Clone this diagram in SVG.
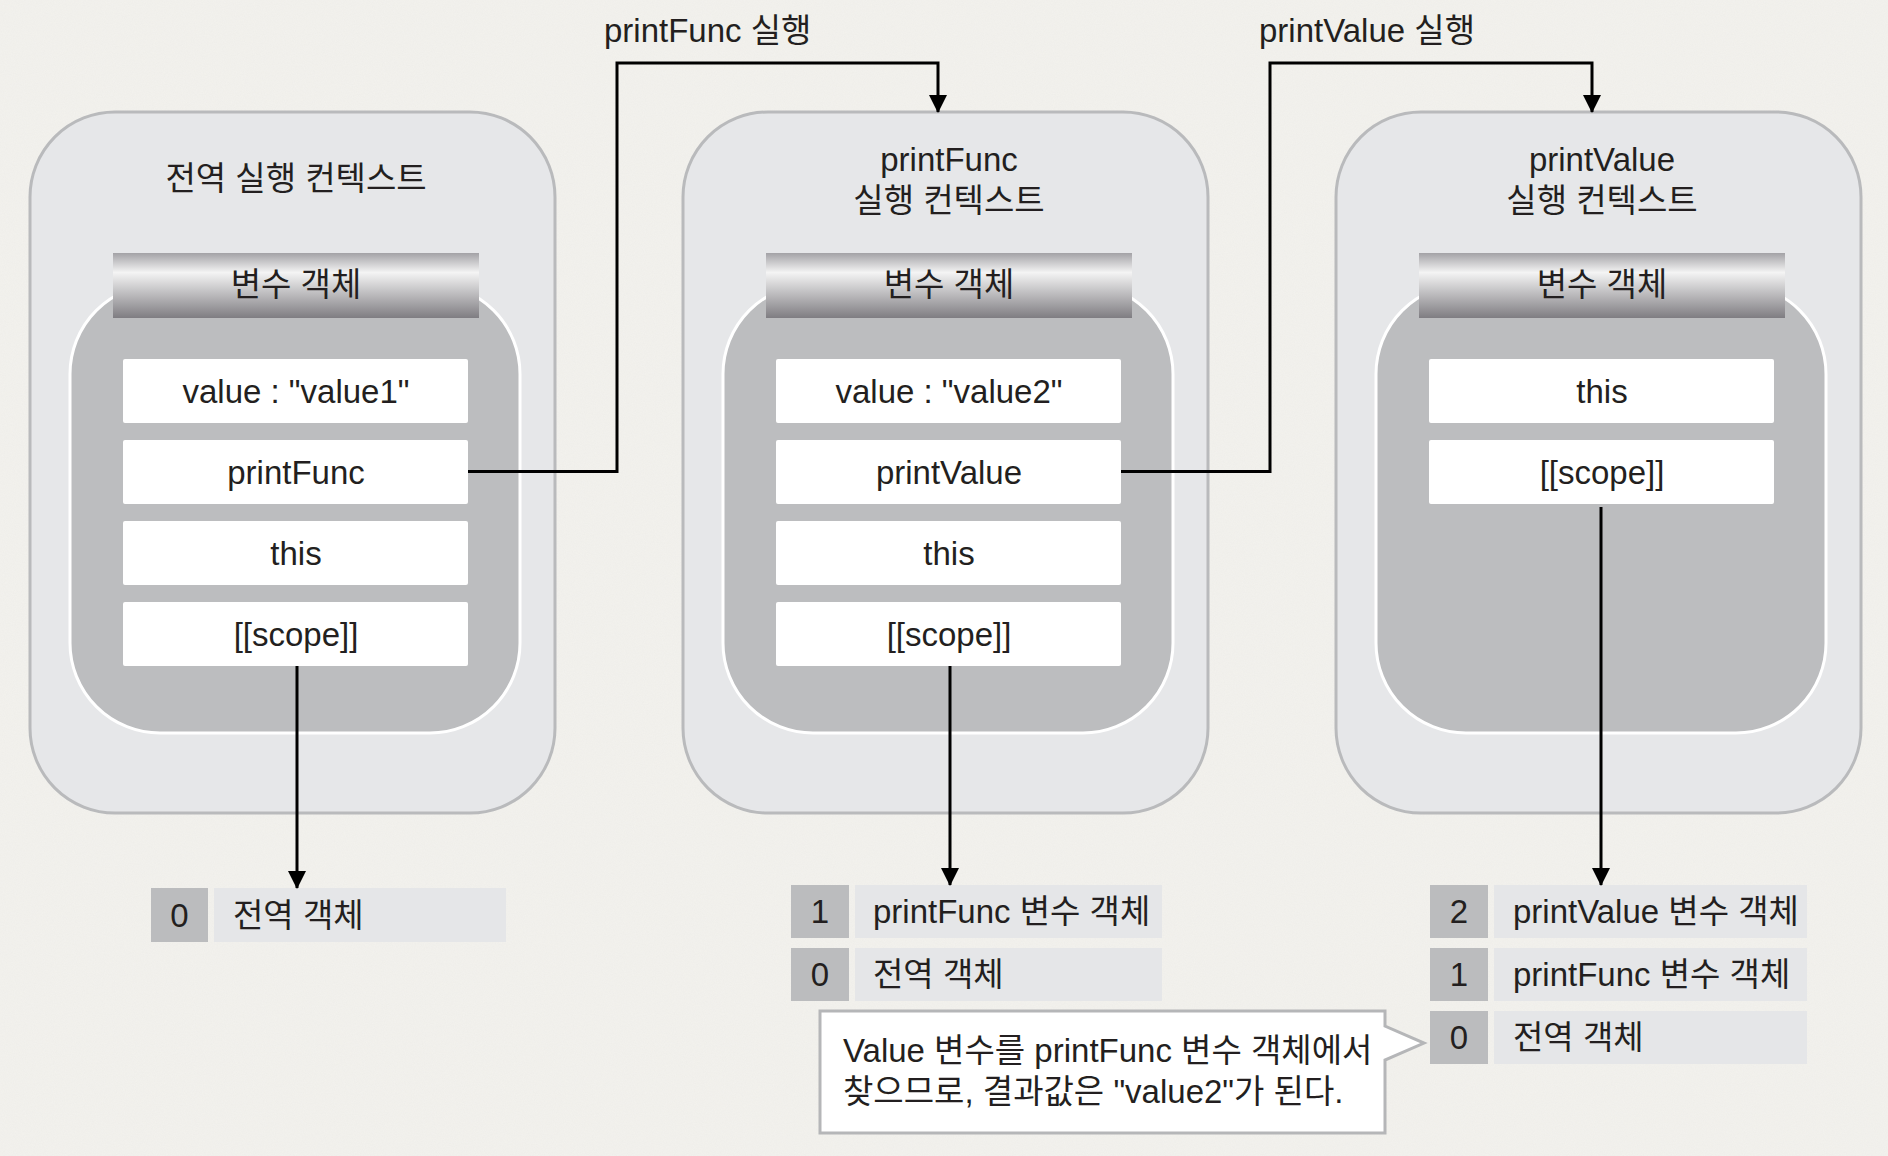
<svg xmlns="http://www.w3.org/2000/svg" width="1888" height="1156" viewBox="0 0 1888 1156">
  <defs>
    <linearGradient id="band" x1="0" y1="0" x2="0" y2="1">
      <stop offset="0" stop-color="#a3a2a6"/>
      <stop offset="0.3" stop-color="#f4f4f4"/>
      <stop offset="1" stop-color="#7f7d82"/>
    </linearGradient>
    <filter id="paper" x="0" y="0" width="100%" height="100%">
      <feTurbulence type="fractalNoise" baseFrequency="0.9" numOctaves="2" seed="3" result="n"/>
      <feColorMatrix in="n" type="matrix" values="0 0 0 0 0.55  0 0 0 0 0.54  0 0 0 0 0.5  0 0 0 0.18 0"/>
    </filter>
    <marker id="arrow" markerUnits="userSpaceOnUse" markerWidth="20" markerHeight="20" refX="17" refY="9" orient="auto">
      <path d="M0,0 L18,9 L0,18 z" fill="#000"/>
    </marker>
    <style>
      .outer { fill: #e6e7e9; stroke: #b9babc; stroke-width: 3; }
      .inner { fill: #bcbdbf; stroke: #ffffff; stroke-width: 3; }
      .band { fill: url(#band); }
      .row { fill: #ffffff; }
      .idx { fill: #bbbcbe; }
      .lbl { fill: #e5e6e8; }
      .t { font-family: 'Liberation Sans', 'Noto Sans CJK KR', sans-serif; font-size: 33px; fill: #231f20; }
      .c { text-anchor: middle; }
      .conn { fill: none; stroke: #000; stroke-width: 3; }
      .callout { fill: #ffffff; stroke: #b5b6b8; stroke-width: 3; }
    </style>
  </defs>

  <rect x="0" y="0" width="1888" height="1156" fill="#f3f2ee"/>
  <rect x="0" y="0" width="1888" height="1156" filter="url(#paper)" opacity="0.5"/>

  <g id="ctx-global">
    <rect class="outer" x="30" y="112" width="525" height="701" rx="85" ry="85"/>
    <rect class="inner" x="70" y="284" width="450" height="449" rx="90" ry="90"/>
    <rect class="band" x="113" y="253" width="366" height="65"/>
    <text class="t c" x="296" y="190">전역 실행 컨텍스트</text>
    <text class="t c" x="296" y="296">변수 객체</text>
    <rect class="row" x="123" y="359" width="345" height="64" rx="2"/>
    <rect class="row" x="123" y="440" width="345" height="64" rx="2"/>
    <rect class="row" x="123" y="521" width="345" height="64" rx="2"/>
    <rect class="row" x="123" y="602" width="345" height="64" rx="2"/>
    <text class="t c" x="296" y="403">value : "value1"</text>
    <text class="t c" x="296" y="484">printFunc</text>
    <text class="t c" x="296" y="565">this</text>
    <text class="t c" x="296" y="646">[[scope]]</text>
  </g>

  <g id="ctx-printFunc">
    <rect class="outer" x="683" y="112" width="525" height="701" rx="85" ry="85"/>
    <rect class="inner" x="723" y="284" width="450" height="449" rx="90" ry="90"/>
    <rect class="band" x="766" y="253" width="366" height="65"/>
    <text class="t c" x="949" y="171">printFunc</text>
    <text class="t c" x="949" y="212">실행 컨텍스트</text>
    <text class="t c" x="949" y="296">변수 객체</text>
    <rect class="row" x="776" y="359" width="345" height="64" rx="2"/>
    <rect class="row" x="776" y="440" width="345" height="64" rx="2"/>
    <rect class="row" x="776" y="521" width="345" height="64" rx="2"/>
    <rect class="row" x="776" y="602" width="345" height="64" rx="2"/>
    <text class="t c" x="949" y="403">value : "value2"</text>
    <text class="t c" x="949" y="484">printValue</text>
    <text class="t c" x="949" y="565">this</text>
    <text class="t c" x="949" y="646">[[scope]]</text>
  </g>

  <g id="ctx-printValue">
    <rect class="outer" x="1336" y="112" width="525" height="701" rx="85" ry="85"/>
    <rect class="inner" x="1376" y="284" width="450" height="449" rx="90" ry="90"/>
    <rect class="band" x="1419" y="253" width="366" height="65"/>
    <text class="t c" x="1602" y="171">printValue</text>
    <text class="t c" x="1602" y="212">실행 컨텍스트</text>
    <text class="t c" x="1602" y="296">변수 객체</text>
    <rect class="row" x="1429" y="359" width="345" height="64" rx="2"/>
    <rect class="row" x="1429" y="440" width="345" height="64" rx="2"/>
    <text class="t c" x="1602" y="403">this</text>
    <text class="t c" x="1602" y="484">[[scope]]</text>
  </g>

  <g id="stack-1">
    <rect class="idx" x="151" y="888" width="57" height="54"/>
    <rect class="lbl" x="214" y="888" width="292" height="54"/>
    <text class="t c" x="179.5" y="927">0</text>
    <text class="t" x="233" y="927">전역 객체</text>
  </g>

  <g id="stack-2">
    <rect class="idx" x="791" y="885" width="58" height="53"/>
    <rect class="lbl" x="855" y="885" width="307" height="53"/>
    <text class="t c" x="820" y="923">1</text>
    <text class="t" x="873" y="923">printFunc 변수 객체</text>
    <rect class="idx" x="791" y="948" width="58" height="53"/>
    <rect class="lbl" x="855" y="948" width="307" height="53"/>
    <text class="t c" x="820" y="986">0</text>
    <text class="t" x="873" y="986">전역 객체</text>
  </g>

  <g id="stack-3">
    <rect class="idx" x="1430" y="885" width="58" height="53"/>
    <rect class="lbl" x="1494" y="885" width="313" height="53"/>
    <text class="t c" x="1459" y="923">2</text>
    <text class="t" x="1513" y="923">printValue 변수 객체</text>
    <rect class="idx" x="1430" y="948" width="58" height="53"/>
    <rect class="lbl" x="1494" y="948" width="313" height="53"/>
    <text class="t c" x="1459" y="986">1</text>
    <text class="t" x="1513" y="986">printFunc 변수 객체</text>
    <rect class="idx" x="1430" y="1011" width="58" height="53"/>
    <rect class="lbl" x="1494" y="1011" width="313" height="53"/>
    <text class="t c" x="1459" y="1049">0</text>
    <text class="t" x="1513" y="1049">전역 객체</text>
  </g>

  <g id="callout">
    <path class="callout" d="M820,1011 L1385,1011 L1385,1026 L1424,1043 L1385,1060 L1385,1133 L820,1133 Z"/>
    <text class="t" x="843" y="1062">Value 변수를 printFunc 변수 객체에서</text>
    <text class="t" x="843" y="1103">찾으므로, 결과값은 "value2"가 된다.</text>
  </g>

  <g id="connectors">
    <path class="conn" d="M468,471.5 L617,471.5 L617,63 L938,63 L938,112" marker-end="url(#arrow)"/>
    <path class="conn" d="M1121,471.5 L1270,471.5 L1270,63 L1592,63 L1592,112" marker-end="url(#arrow)"/>
    <path class="conn" d="M297,666 L297,888" marker-end="url(#arrow)"/>
    <path class="conn" d="M950,666 L950,885" marker-end="url(#arrow)"/>
    <path class="conn" d="M1601,507 L1601,885" marker-end="url(#arrow)"/>
    <text class="t" x="604" y="42">printFunc 실행</text>
    <text class="t" x="1259" y="42">printValue 실행</text>
  </g>
</svg>
